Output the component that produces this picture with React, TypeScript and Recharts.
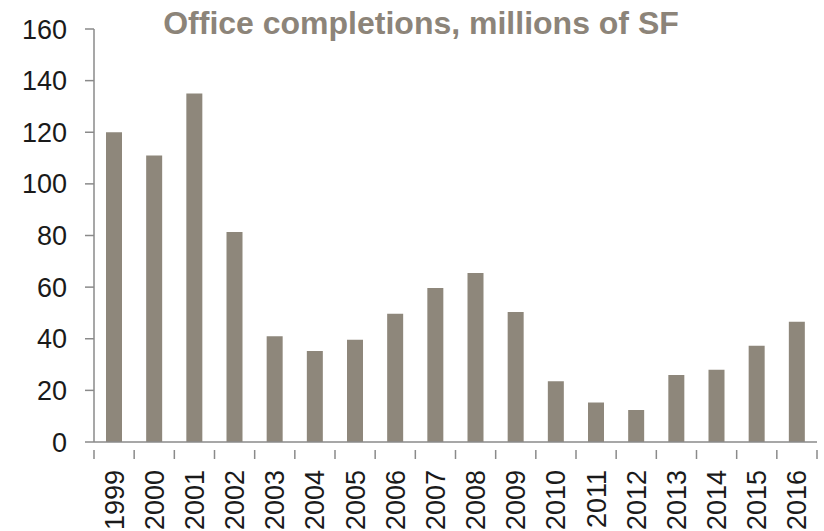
import { BarChart, Bar, XAxis, YAxis } from "recharts"

const years = ["1999", "2000", "2001", "2002", "2003", "2004", "2005", "2006", "2007", "2008", "2009", "2010", "2011", "2012", "2013", "2014", "2015", "2016"]
const completions = [120, 111, 135, 81.4, 41, 35.3, 39.6, 49.7, 59.7, 65.5, 50.4, 23.5, 15.3, 12.4, 26, 28, 37.3, 46.6]
const yTicks = [0, 20, 40, 60, 80, 100, 120, 140, 160]

const data = years.map((year, i) => ({ year, value: completions[i] }))

const W = 824
const H = 531
const LEFT = 94
const RIGHT = 7
const band = (W - LEFT - RIGHT) / years.length
const axisColor = "#8a8a8a"
const font = "'Liberation Sans', Arial, sans-serif"

const YearTick = (props: any) => {
  const { x, y, payload, index } = props
  const last = index === years.length - 1
  return (
    <g>
      <line x1={x - band / 2} y1={y} x2={x - band / 2} y2={y + 9} stroke={axisColor} strokeWidth={1.5} />
      {last && <line x1={x + band / 2} y1={y} x2={x + band / 2} y2={y + 9} stroke={axisColor} strokeWidth={1.5} />}
      <text
        x={x}
        y={y + 20}
        dy="0.35em"
        transform={`rotate(-90 ${x} ${y + 20})`}
        textAnchor="end"
        fontSize={27}
        fontFamily={font}
        fill="#1a1a1a"
      >
        {payload.value}
      </text>
    </g>
  )
}

export default function App() {
  return (
    <div style={{ position: "absolute", left: 0, top: 0, width: W, height: H, background: "#fff" }}>
      <div
        style={{
          position: "absolute",
          left: 0,
          width: 842,
          top: 6,
          textAlign: "center",
          fontFamily: font,
          fontWeight: "bold",
          fontSize: 32,
          lineHeight: "34px",
          color: "#8c8479",
          whiteSpace: "nowrap",
        }}
      >
        Office completions, millions of SF
      </div>
      <BarChart width={W} height={H} data={data} margin={{ top: 29, right: RIGHT, bottom: 0, left: 0 }} barCategoryGap={0}>
        <XAxis
          dataKey="year"
          height={89}
          interval={0}
          tickLine={false}
          tick={<YearTick />}
          axisLine={{ stroke: axisColor, strokeWidth: 1.5 }}
        />
        <YAxis
          width={LEFT}
          domain={[0, 160]}
          ticks={yTicks}
          interval={0}
          tickSize={9}
          tickMargin={18}
          axisLine={{ stroke: axisColor, strokeWidth: 1.5 }}
          tickLine={{ stroke: axisColor, strokeWidth: 1.5 }}
          tick={{ fontSize: 27, fontFamily: font, fill: "#1a1a1a" }}
        />
        <Bar dataKey="value" fill="#8e877b" barSize={16} isAnimationActive={false} />
      </BarChart>
    </div>
  )
}
